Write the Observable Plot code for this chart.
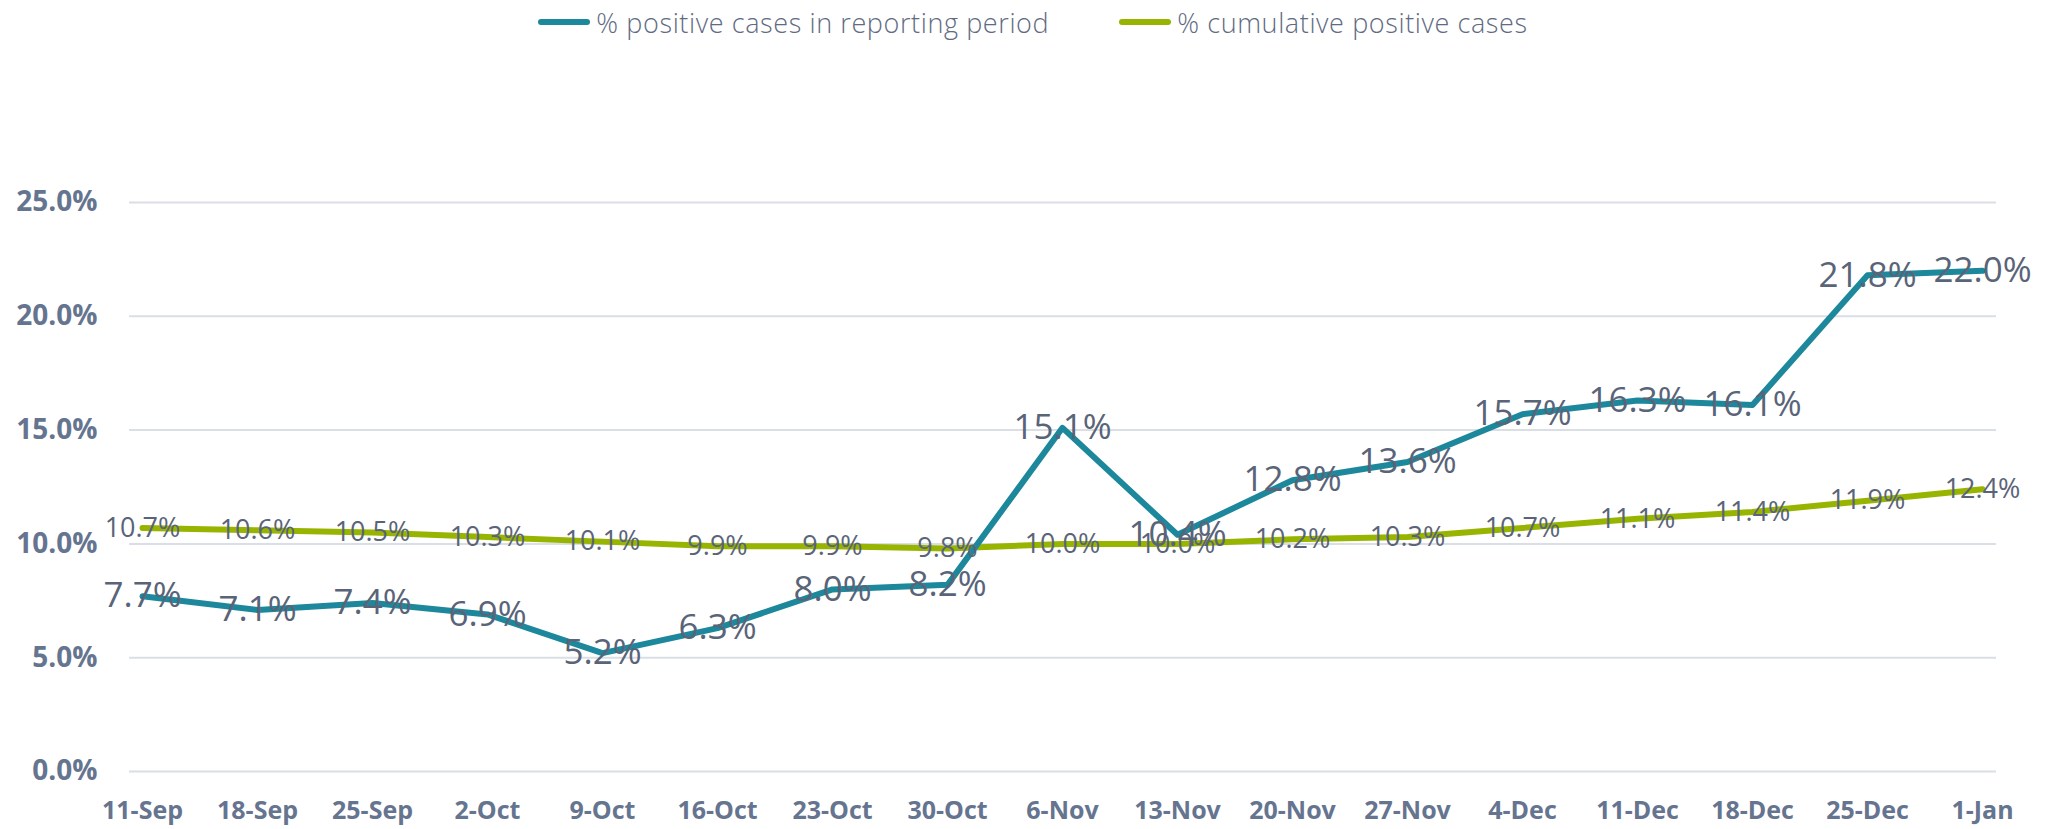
<!DOCTYPE html>
<html><head><meta charset="utf-8">
<script src="https://cdn.jsdelivr.net/npm/d3@7"></script>
<script src="https://cdn.jsdelivr.net/npm/@observablehq/plot@0.6"></script>
<style>
body{margin:0;background:#fff;font-family:"Open Sans",sans-serif;}
#legend{height:44px;display:flex;justify-content:center;align-items:center;gap:70px;font-size:27px;letter-spacing:0.6px;color:#5f6b82;font-weight:300;padding-left:10px;}
.item{display:flex;align-items:center;}
.sw{width:52px;height:6px;border-radius:3px;margin-right:6px;}
</style></head><body>
<div id="legend"></div>
<div id="chart"></div>
<script>
const weeks = ["11-Sep","18-Sep","25-Sep","2-Oct","9-Oct","16-Oct","23-Oct","30-Oct","6-Nov","13-Nov","20-Nov","27-Nov","4-Dec","11-Dec","18-Dec","25-Dec","1-Jan"];
const periodPct = [7.7,7.1,7.4,6.9,5.2,6.3,8.0,8.2,15.1,10.4,12.8,13.6,15.7,16.3,16.1,21.8,22.0];
const cumulativePct = [10.7,10.6,10.5,10.3,10.1,9.9,9.9,9.8,10.0,10.0,10.2,10.3,10.7,11.1,11.4,11.9,12.4];
const seriesNames = ["% positive cases in reporting period","% cumulative positive cases"];
const seriesColors = ["#1d879c","#97b500"];
const yTicks = [0,5,10,15,20,25];

const period = weeks.map((w,i)=>({week:w, value:periodPct[i]}));
const cumulative = weeks.map((w,i)=>({week:w, value:cumulativePct[i]}));

const legend = document.getElementById("legend");
seriesNames.forEach((n,i)=>{
  const it = document.createElement("div"); it.className="item";
  const sw = document.createElement("div"); sw.className="sw"; sw.style.background=seriesColors[i];
  const tx = document.createElement("span"); tx.textContent=n;
  it.appendChild(sw); it.appendChild(tx); legend.appendChild(it);
});

const fmt = d => d.toFixed(1)+"%";
const chart = Plot.plot({
  width:2056, height:785,
  marginTop:158, marginBottom:58, marginLeft:129, marginRight:60,
  style:{fontFamily:"Open Sans, sans-serif", background:"#fff", overflow:"visible"},
  x:{type:"point", domain:weeks, padding:0, insetLeft:8, insetRight:9, label:null},
  y:{domain:[0,25], label:null},
  marks:[
    Plot.ruleY(yTicks,{stroke:"#dadee5", strokeWidth:2}),
    Plot.axisY(yTicks,{tickSize:0, tickPadding:32, tickFormat:fmt, fontSize:28, fontWeight:"bold", color:"#65748f", label:null}),
    Plot.axisX({tickSize:0, tickPadding:30, fontSize:25, fontWeight:"bold", color:"#65748f", label:null}),
    Plot.line(cumulative,{x:"week", y:"value", stroke:seriesColors[1], strokeWidth:6, strokeLinecap:"round", strokeLinejoin:"round"}),
    Plot.line(period,{x:"week", y:"value", stroke:seriesColors[0], strokeWidth:6, strokeLinecap:"round", strokeLinejoin:"round"}),
    Plot.text(cumulative,{x:"week", y:"value", text:d=>fmt(d.value), fontSize:27, fill:"#5a6478", fontWeight:400}),
    Plot.text(period,{x:"week", y:"value", text:d=>fmt(d.value), fontSize:35, fill:"#5a6478", fontWeight:400})
  ]
});
document.getElementById("chart").appendChild(chart);
</script>
</body></html>
